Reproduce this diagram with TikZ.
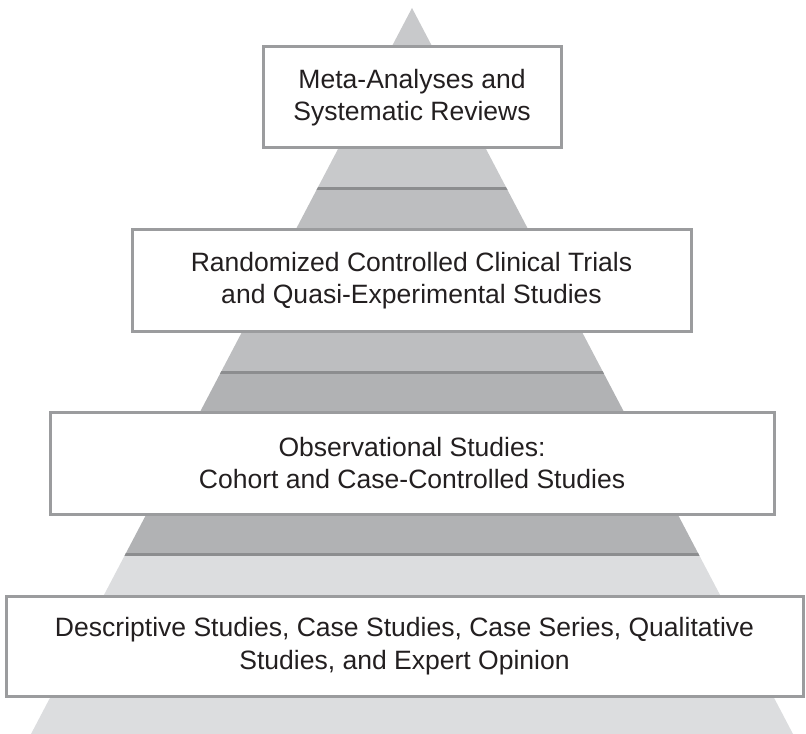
\documentclass[tikz,border=0pt]{standalone}
\usepackage{fontspec}
\setmainfont{Liberation Sans}
\usetikzlibrary{positioning}
\definecolor{pyrA}{RGB}{200,201,203}
\definecolor{pyrB}{RGB}{189,190,192}
\definecolor{pyrC}{RGB}{177,178,180}
\definecolor{pyrD}{RGB}{220,221,223}
\definecolor{seam}{RGB}{140,141,143}
\definecolor{frame}{RGB}{155,156,158}
\definecolor{ink}{RGB}{35,31,32}

\begin{document}
\begin{tikzpicture}[x=0.75pt, y=-0.75pt,
  tier/.style={draw=frame, line width=2.25pt, fill=white, align=center, text=ink,
    font=\fontsize{19.9}{24.5}\selectfont, inner sep=0pt},
  seamline/.style={draw=seam, line width=2.25pt}]
  \useasboundingbox (0,0) rectangle (806,734);
  \coordinate (apex) at (412,8);
  \coordinate (baseL) at (31,734);
  \coordinate (baseR) at (793,734);
  % pyramid bands
  \begin{scope}
    \clip (apex) -- (baseL) -- (baseR) -- cycle;
    \fill[pyrA] (0,0) rectangle (806,189);
    \fill[pyrB] (0,189) rectangle (806,372);
    \fill[pyrC] (0,372) rectangle (806,554);
    \fill[pyrD] (0,554) rectangle (806,734);
    \foreach \y in {189,372,554}
      \draw[seamline] (0,\y) -- (806,\y);
  \end{scope}
  % levels of evidence
  \node[tier, minimum width=223.5pt, minimum height=75.75pt] (meta) at (412,97.5)
    {Meta-Analyses and\\Systematic Reviews};
  \node[tier, minimum width=419.25pt, minimum height=76.9pt] (rct) at (411.5,280.5)
    {Randomized Controlled Clinical Trials\\and Quasi-Experimental Studies};
  \node[tier, minimum width=543pt, minimum height=76.5pt] (obs) at (412,463)
    {Observational Studies:\\Cohort and Case-Controlled Studies};
  \node[tier, minimum width=597.75pt, minimum height=75pt] (desc) at (404.5,646)
    {Descriptive Studies, Case Studies, Case Series, Qualitative\\Studies, and Expert Opinion};
\end{tikzpicture}
\end{document}
